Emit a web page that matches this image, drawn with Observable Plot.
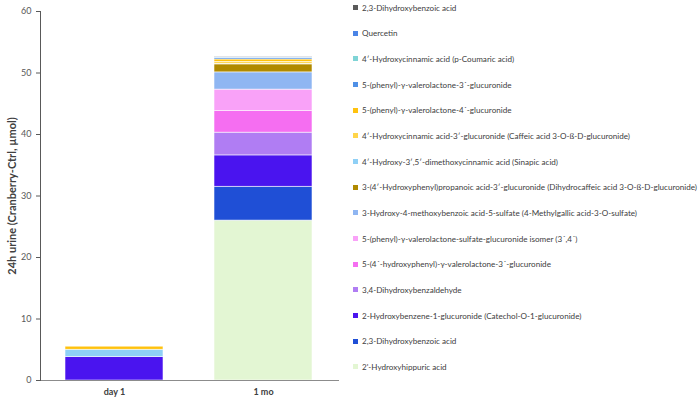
<!DOCTYPE html>
<html>
<head>
<meta charset="utf-8">
<script src="https://cdn.jsdelivr.net/npm/d3@7"></script>
<script src="https://cdn.jsdelivr.net/npm/@observablehq/plot@0.6"></script>
<style>
  html, body { margin: 0; padding: 0; background: #fff; }
  #wrap { position: relative; width: 700px; height: 402px; font-family: Lato, "Open Sans", sans-serif; }
  #chart { position: absolute; left: 0; top: 0; }
  #legend { position: absolute; left: 353px; top: 0; }
  .item { position: absolute; left: 0; height: 10px; white-space: nowrap; font-size: 8.1px; color: #404040; display: flex; align-items: center; }
  .sw { width: 5px; height: 5px; margin-right: 4px; display: inline-block; }
</style>
</head>
<body>
<div id="wrap"><div id="chart"></div><div id="legend"></div></div>
<script>
// Categories (x axis)
const categories = ["day 1", "1 mo"];

// Series, listed from bottom of the stack to top
const seriesNames = [
  "2'-Hydroxyhippuric acid",
  "2,3-Dihydroxybenzoic acid",
  "2-Hydroxybenzene-1-glucuronide (Catechol-O-1-glucuronide)",
  "3,4-Dihydroxybenzaldehyde",
  "5-(4´-hydroxyphenyl)-γ-valerolactone-3´-glucuronide",
  "5-(phenyl)-γ-valerolactone-sulfate-glucuronide isomer (3´,4´)",
  "3-Hydroxy-4-methoxybenzoic acid-5-sulfate (4-Methylgallic acid-3-O-sulfate)",
  "3-(4′-Hydroxyphenyl)propanoic acid-3′-glucuronide (Dihydrocaffeic acid 3-O-ß-D-glucuronide)",
  "4′-Hydroxy-3′,5′-dimethoxycinnamic acid (Sinapic acid)",
  "4′-Hydroxycinnamic acid-3′-glucuronide (Caffeic acid 3-O-ß-D-glucuronide)",
  "5-(phenyl)-γ-valerolactone-4´-glucuronide",
  "5-(phenyl)-γ-valerolactone-3´-glucuronide",
  "4′-Hydroxycinnamic acid (p-Coumaric acid)",
  "Quercetin",
  "2,3-Dihydroxybenzoic acid"
];

// Values (µmol) per series, same order as seriesNames
const day1Values = [0, 0, 3.8, 0, 0, 0, 0, 0, 1.2, 0, 0.5, 0, 0, 0, 0];
const mo1Values  = [26.0, 5.5, 5.1, 3.7, 3.5, 3.5, 2.8, 1.3, 0.1, 0.3, 0.4, 0.25, 0.05, 0.1, 0.05];

// Colours per series
const seriesColors = [
  "#e3f6d3", "#1f4fd6", "#4a14ef", "#b07df3", "#f56ef1",
  "#f9a2f8", "#8fb6f2", "#b08a00", "#8fd0f6", "#ffd54a",
  "#ffc20e", "#4f90e6", "#7fd4d6", "#4a84e6", "#5a5a5a"
];

// Y axis
const yTicks = [0, 10, 20, 30, 40, 50, 60];
const yLabel = "24h urine (Cranberry-Ctrl, µmol)";

const keys = seriesNames.map((_, i) => "s" + i);
const data = [];
categories.forEach((c, ci) => {
  const vals = ci === 0 ? day1Values : mo1Values;
  seriesNames.forEach((s, i) => data.push({period: c, key: keys[i], name: s, value: vals[i]}));
});

const chart = Plot.plot({
  width: 345,
  height: 402,
  marginLeft: 40,
  marginRight: 7,
  marginTop: 11,
  marginBottom: 22,
  style: {fontFamily: "Lato, 'Open Sans', sans-serif", background: "white"},
  x: {domain: categories, paddingInner: 0.34, paddingOuter: 0.17, label: null},
  y: {domain: [0, 60], label: null},
  color: {domain: keys, range: seriesColors},
  marks: [
    Plot.barY(data, Plot.stackY({order: null}, {
      x: "period", y: "value", fill: "key",
      stroke: "white", strokeWidth: 0.7, strokeOpacity: 0.8
    })),
    Plot.frame({anchor: "bottom", stroke: "#8c8c8c"}),
    Plot.frame({anchor: "left", stroke: "#595959"}),
    Plot.axisY({ticks: yTicks, tickSize: 4, tickPadding: 5, fontSize: 9, fill: "#595959", stroke: "#595959",
      label: yLabel, labelAnchor: "center", labelArrow: "none", labelOffset: 32}),
    Plot.axisX({tickSize: 0, tickPadding: 8, fontSize: 9, fontWeight: "bold", fill: "#404040", label: null})
  ]
});
document.getElementById("chart").appendChild(chart);

// Style the y axis label
chart.querySelectorAll("[aria-label='y-axis label'] text, [aria-label='y-axis label']").forEach(t => {
  t.setAttribute("font-weight", "bold");
  t.setAttribute("font-size", "11");
  t.setAttribute("fill", "#404040");
});

// Legend (top to bottom = top of stack to bottom)
const legend = document.getElementById("legend");
const order = seriesNames.map((_, i) => i).reverse();
order.forEach((i, row) => {
  const d = document.createElement("div");
  d.className = "item";
  d.style.top = (2.5 + row * 25.67) + "px";
  const sw = document.createElement("span");
  sw.className = "sw";
  sw.style.background = seriesColors[i];
  d.appendChild(sw);
  d.appendChild(document.createTextNode(seriesNames[i]));
  legend.appendChild(d);
});
</script>
</body>
</html>
